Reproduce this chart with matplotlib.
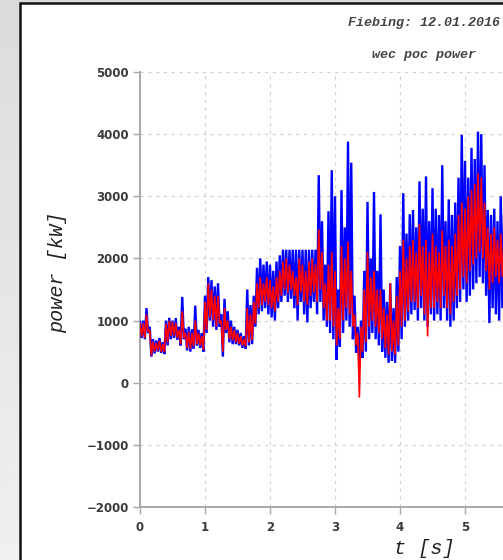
import numpy as np
import matplotlib
matplotlib.use("Agg")
import matplotlib.pyplot as plt
from matplotlib.patches import Rectangle

# ---------------- data ----------------
t = np.round(np.arange(0, 5.601, 0.05), 2)

blue_hi = [980, 1000, 1200, 900, 700, 680, 720, 650, 1000, 1045,
           1000, 1040, 900, 1380, 870, 900, 860, 1240, 850, 800,
           1400, 1700, 1650, 1550, 1600, 1100, 1350, 1150, 1000, 900,
           850, 800, 750, 1500, 1250, 1400, 1850, 2000, 1900, 1950,
           1900, 1800, 1950, 2050, 2140, 2140, 2140, 2140, 2140, 2140,
           2140, 2140, 2140, 2140, 2140, 3340, 2600, 1900, 2760, 3420,
           3000, 1500, 3100, 2500, 3880, 3540, 1400, 900, 1000, 1800,
           2910, 2000, 3070, 1800, 2710, 1500, 1300, 1600, 1200, 1700,
           2200, 3050, 2400, 2710, 2780, 2500, 3240, 2800, 3320, 2600,
           3130, 2800, 2700, 3500, 2600, 2950, 2700, 2900, 3300, 3990,
           3570, 3300, 3780, 3600, 4040, 4000, 3500, 2780, 2700, 2800,
           2600, 3000, 2700]
blue_lo = [720, 700, 800, 420, 470, 500, 480, 460, 600, 700,
           720, 690, 600, 700, 520, 500, 550, 600, 560, 500,
           800, 1000, 900, 850, 900, 420, 800, 650, 620, 620,
           600, 560, 550, 600, 620, 900, 1100, 1150, 1200, 1100,
           1050, 1000, 1200, 1300, 1400, 1300, 1350, 1200, 1000, 1300,
           1100, 970, 1200, 1300, 1100, 1300, 1000, 900, 800, 700,
           370, 580, 800, 1000, 900, 700, 480, 260, 400, 500,
           700, 800, 700, 600, 500, 400, 320, 350, 320, 500,
           700, 900, 1000, 1100, 1170, 1000, 1200, 1000, 900, 1100,
           1000, 1100, 1000, 1200, 1000, 900, 1000, 1200, 1300, 1500,
           1300, 1400, 1500, 1600, 1700, 1600, 1400, 960, 1200, 1100,
           1000, 1200, 1100]
red_hi = [950, 960, 1100, 850, 660, 640, 680, 620, 950, 1000,
          980, 960, 850, 1150, 800, 820, 800, 1000, 800, 750,
          1300, 1600, 1500, 1400, 1400, 1000, 1200, 1000, 900, 850,
          800, 750, 700, 1200, 1100, 1300, 1600, 1700, 1600, 1700,
          1650, 1550, 1700, 1800, 1950, 2000, 1900, 1800, 1700, 2000,
          1900, 1800, 1950, 2000, 1900, 2470, 2100, 1600, 1900, 2100,
          1800, 1200, 2200, 2000, 2270, 1800, 1100, 800, 900, 1500,
          2100, 1700, 1800, 1500, 1500, 1200, 1100, 1600, 1000, 1400,
          1800, 2300, 2000, 2200, 2300, 2100, 2550, 2200, 2300, 2100,
          2400, 2200, 2100, 2450, 2200, 2300, 2200, 2400, 2700, 2900,
          2800, 3000, 3100, 3200, 3370, 3300, 2900, 2500, 2400, 2500,
          2300, 2400, 2300]
red_lo = [740, 720, 820, 440, 500, 520, 500, 490, 650, 750,
          760, 720, 620, 720, 560, 540, 580, 620, 600, 530,
          850, 1050, 1000, 900, 950, 500, 850, 700, 680, 650,
          630, 600, 580, 650, 680, 950, 1200, 1250, 1300, 1250,
          1200, 1150, 1300, 1400, 1500, 1450, 1500, 1400, 1250, 1450,
          1300, 1250, 1400, 1450, 1300, 1500, 1200, 1000, 1000, 900,
          600, 700, 1000, 1200, 1100, 900, 600, -240, 500, 650,
          900, 1000, 900, 800, 700, 550, 450, 500, 450, 600,
          900, 1000, 1150, 1300, 1300, 1200, 1400, 1100, 745, 1200,
          1200, 1300, 1200, 1400, 1200, 1100, 1300, 1400, 1500, 1700,
          1600, 1800, 1900, 2000, 2100, 2000, 1800, 1500, 1600, 1700,
          1600, 1700, 1600]

x_ticks = [0, 1, 2, 3, 4, 5]
y_ticks = [-2000, -1000, 0, 1000, 2000, 3000, 4000, 5000]
title_top = "Fiebing: 12.01.2016"
title_main = "wec poc power"
xlabel = "t [s]"
ylabel = "power [kW]"


def zigzag(tt, hi, lo, dt=0.025):
    tx = np.empty(2 * len(tt))
    vy = np.empty(2 * len(tt))
    tx[0::2] = tt
    tx[1::2] = np.asarray(tt) + dt
    vy[0::2] = hi
    vy[1::2] = lo
    return tx, vy


# ---------------- figure ----------------
W, H = 503, 560
fig = plt.figure(figsize=(W / 100, H / 100), dpi=100, facecolor="#e4e4e4")

# white "paper" with dark frame (drawn in a background axes)
bg = fig.add_axes([0, 0, 1, 1], zorder=0)
bg.set_axis_off()
grad = np.linspace(0.86, 0.94, 256).reshape(-1, 1)
bg.imshow(grad, extent=[0, W, H, 0], cmap="gray", vmin=0, vmax=1,
          aspect="auto", zorder=0)
bg.add_patch(Rectangle((20, 3), W + 20, H + 20, facecolor="white",
                       edgecolor="#111111", linewidth=1.8, zorder=1))
bg.set_xlim(0, W)
bg.set_ylim(H, 0)

ax_left, ax_right = 140, 708
ax_top, ax_bot = 72, 507
ax = fig.add_axes([ax_left / W, (H - ax_bot) / H,
                   (ax_right - ax_left) / W, (ax_bot - ax_top) / H], zorder=2)
ax.set_facecolor("none")

bx, by = zigzag(t, blue_hi, blue_lo)
rx, ry = zigzag(t, red_hi, red_lo)
ax.plot(bx, by, color="#0000ff", lw=1.7, zorder=3, solid_joinstyle="miter")
ax.plot(rx, ry, color="#ff0000", lw=1.2, zorder=4, solid_joinstyle="miter")

ax.set_xlim(0, (ax_right - ax_left) / 65.0)
ax.set_ylim(-2000, 5000)
ax.set_xticks(x_ticks)
ax.set_yticks(y_ticks)
ax.set_yticklabels([("\u2212" + str(-v)) if v < 0 else str(v) for v in y_ticks])

ax.grid(True, color="#d2d2d2", linestyle=(0, (3, 4)), linewidth=0.8)
for s in ["top", "right"]:
    ax.spines[s].set_visible(False)
for s in ["left", "bottom"]:
    ax.spines[s].set_color("#a8a8a8")
    ax.spines[s].set_linewidth(1.4)
ax.tick_params(axis="both", colors="#a8a8a8", length=5, width=1.0,
               labelcolor="#3a3a3a", labelsize=8.5)
for lab in ax.get_xticklabels() + ax.get_yticklabels():
    lab.set_fontfamily("DejaVu Sans")
    lab.set_fontweight("bold")
ax.tick_params(axis="y", pad=3)
ax.tick_params(axis="x", pad=5)

ax.set_xlabel(xlabel, family="Liberation Mono", style="italic",
              fontsize=14.5, color="#222222")
ax.xaxis.set_label_coords(0.5, -(548 - ax_bot) / (ax_bot - ax_top))
ax.xaxis.label.set_va("center")
ax.set_ylabel(ylabel, family="Liberation Mono", style="italic",
              fontsize=14.5, color="#222222")
ax.yaxis.set_label_coords((58 - ax_left) / (ax_right - ax_left),
                          (ax_bot - 272) / (ax_bot - ax_top))
ax.yaxis.label.set_va("center")

cx = 424 / W
fig.text(cx, 1 - 23 / H, title_top, ha="center", va="center",
         family="Liberation Mono", style="italic", weight="bold",
         fontsize=9.6, color="#444444", zorder=5)
fig.text(cx, 1 - 55 / H, title_main, ha="center", va="center",
         family="Liberation Mono", style="italic", weight="bold",
         fontsize=9.6, color="#444444", zorder=5)

fig.savefig("out.png", dpi=100, facecolor=fig.get_facecolor())
